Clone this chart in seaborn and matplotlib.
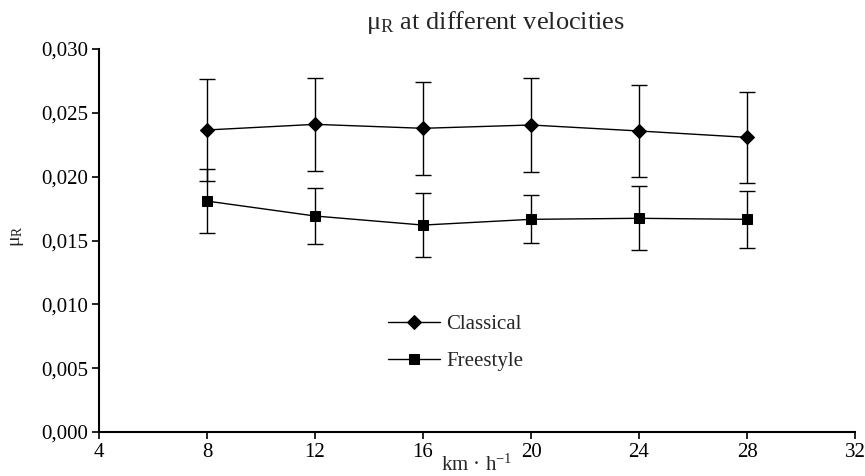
import numpy as np
import pandas as pd
import matplotlib
matplotlib.use("Agg")
import matplotlib.pyplot as plt
from matplotlib.ticker import FuncFormatter
import seaborn as sns

# velocities (km/h)
velocity = [8, 12, 16, 20, 24, 28]

# rolling resistance coefficient, mean and SD
classical_mean = [0.02366, 0.02410, 0.02379, 0.02405, 0.02358, 0.02308]
classical_sd = [0.00400, 0.00365, 0.00362, 0.00365, 0.00360, 0.00357]
freestyle_mean = [0.01809, 0.01692, 0.01621, 0.01666, 0.01674, 0.01666]
freestyle_sd = [0.00253, 0.00222, 0.00250, 0.00188, 0.00250, 0.00225]

series_names = ["Classical", "Freestyle"]

sns.set_style("ticks")
plt.rcParams["font.family"] = ["Liberation Serif", "DejaVu Serif"]
plt.rcParams["mathtext.fontset"] = "custom"
plt.rcParams["mathtext.rm"] = "Liberation Serif"
plt.rcParams["mathtext.it"] = "Liberation Serif:italic"

df = pd.DataFrame({
    "velocity": velocity * 2,
    "mu": classical_mean + freestyle_mean,
    "sd": classical_sd + freestyle_sd,
    "style": [series_names[0]] * len(velocity) + [series_names[1]] * len(velocity),
})

fig = plt.figure(figsize=(8.65, 4.76), dpi=100)
ax = fig.add_axes([0.1145, 0.0924, 0.874, 0.8046])

# error bars first so the markers sit on top
for name in series_names:
    sub = df[df["style"] == name]
    ax.errorbar(sub["velocity"], sub["mu"], yerr=sub["sd"], fmt="none",
                ecolor="black", elinewidth=1, capsize=6, capthick=1, zorder=2)

sns.lineplot(data=df, x="velocity", y="mu", style="style", hue="style",
             palette={"Classical": "black", "Freestyle": "black"},
             markers={"Classical": "D", "Freestyle": "s"},
             dashes=False, markersize=7, linewidth=1, markeredgecolor="black",
             ax=ax, zorder=3)

ax.set_xlim(4, 32)
ax.set_ylim(0, 0.030)
ax.set_xticks(np.arange(4, 33, 4))
ax.set_yticks(np.arange(0, 0.0301, 0.005))
ax.yaxis.set_major_formatter(FuncFormatter(lambda v, p: f"{v:.3f}".replace(".", ",")))
ax.tick_params(labelsize=15, length=5, width=1.2, direction="out", colors="black", pad=3)
for s in ["left", "bottom"]:
    ax.spines[s].set_linewidth(1.5)
    ax.spines[s].set_color("black")
sns.despine(ax=ax)

ax.set_xlabel("")
ax.set_ylabel("")
ax.text(0.5, -0.1, r"km · h$^{-1}$", transform=ax.transAxes,
        ha="center", va="baseline", fontsize=15)
fig.text(0.02, 0.504, r"μ$_\mathrm{R}$", rotation=90, ha="center", va="center", fontsize=14)
fig.text(0.573, 0.94, r"μ$_\mathrm{R}$ at different velocities", ha="center",
         va="baseline", fontsize=19)

ax.legend(loc="center left", bbox_to_anchor=(0.382, 0.233), frameon=False,
          fontsize=15, handlelength=2.5, handletextpad=0.3, labelspacing=0.85,
          borderpad=0, borderaxespad=0)

fig.savefig("out.png", dpi=100)
